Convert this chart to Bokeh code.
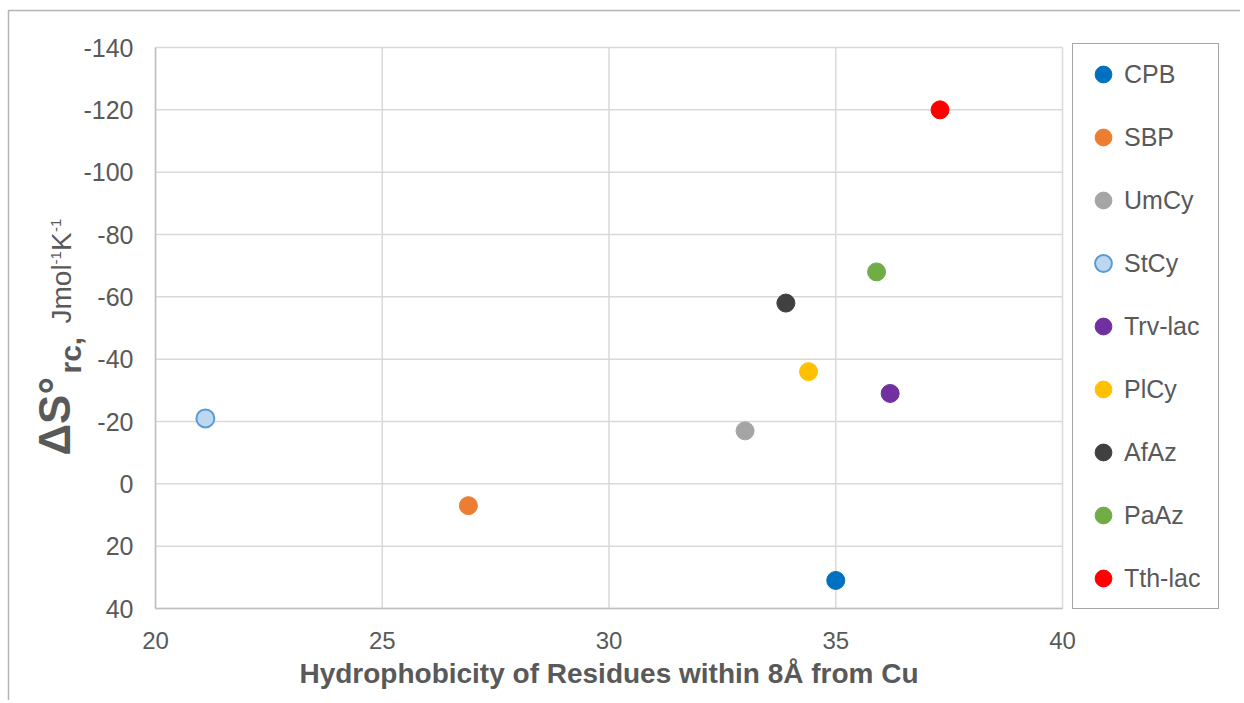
import math
from bokeh.plotting import figure
from bokeh.models import (Range1d, FixedTicker, Legend, LegendItem, Label, BoxAnnotation)
from bokeh.embed import file_html
from bokeh.resources import INLINE

# ---- data ----
names = ["CPB", "SBP", "UmCy", "StCy", "Trv-lac", "PlCy", "AfAz", "PaAz", "Tth-lac"]
hydrophobicity = [35.0, 26.9, 33.0, 21.1, 36.2, 34.4, 33.9, 35.9, 37.3]
delta_s = [31, 7, -17, -21, -29, -36, -58, -68, -120]
x_ticks = [20, 25, 30, 35, 40]
y_ticks = [-140, -120, -100, -80, -60, -40, -20, 0, 20, 40]

fill_colors = ["#0070C0", "#ED7D31", "#A5A5A5", "#BDD7EE", "#7030A0",
               "#FFC000", "#404040", "#70AD47", "#FF0000"]
line_colors = ["#0070C0", "#ED7D31", "#A5A5A5", "#5B9BD5", "#7030A0",
               "#FFC000", "#404040", "#70AD47", "#FF0000"]

FONT = "Liberation Sans"
TXT = "#595959"

# ---- layout (pixels) ----
W, H = 1240, 700
PL, PR, PT, PB = 155, 1062, 47, 608          # plot-area edges on the canvas
X0, X1 = x_ticks[0], x_ticks[-1]
Y0, Y1 = y_ticks[0], y_ticks[-1]               # -140 (top), 40 (bottom)
sx = (PR - PL) / (X1 - X0)
sy = (PB - PT) / (Y1 - Y0)
x_range = Range1d(X0 - PL / sx, X1 + (W - PR) / sx)
y_range = Range1d(Y1 + (H - PB) / sy, Y0 - PT / sy)

p = figure(output_backend="svg", toolbar_location=None, width=W, height=H,
           x_range=x_range, y_range=y_range, min_border=0,
           background_fill_color="white", border_fill_color="white")
p.outline_line_color = None
p.grid.visible = False

# gridlines limited to the plot area (from the tick lists)
p.segment(x0=x_ticks, x1=x_ticks, y0=[Y0] * len(x_ticks), y1=[Y1] * len(x_ticks),
          line_color="#d9d9d9", line_width=1.5, level="underlay")
p.segment(x0=[X0] * len(y_ticks), x1=[X1] * len(y_ticks), y0=y_ticks, y1=y_ticks,
          line_color="#d9d9d9", line_width=1.5, level="underlay")

# axes fixed at the plot-area edges
p.xaxis.fixed_location = Y1
p.yaxis.fixed_location = X0
p.xaxis.bounds = (X0, X1)
p.yaxis.bounds = (Y0, Y1)
p.xaxis.ticker = FixedTicker(ticks=x_ticks)
p.yaxis.ticker = FixedTicker(ticks=y_ticks)
p.xaxis.major_label_overrides = {t: str(t) for t in x_ticks}
p.yaxis.major_label_overrides = {t: str(t) for t in y_ticks}
for ax in (p.xaxis[0], p.yaxis[0]):
    ax.major_tick_line_color = None
    ax.minor_tick_line_color = None
    ax.major_tick_out = 0
    ax.major_tick_in = 0
    ax.axis_line_color = "#bfbfbf"
    ax.axis_line_width = 1.5
    ax.major_label_text_font = FONT
    ax.major_label_text_color = TXT
p.yaxis.major_label_text_font_size = "25px"
p.xaxis.major_label_text_font_size = "24px"
p.yaxis.major_label_standoff = 22
p.xaxis.major_label_standoff = 23

p.xaxis.axis_label = "Hydrophobicity of Residues within 8Å from Cu"
p.xaxis.axis_label_text_font = FONT
p.xaxis.axis_label_text_font_style = "bold"
p.xaxis.axis_label_text_font_size = "28px"
p.xaxis.axis_label_text_color = TXT
p.xaxis.axis_label_standoff = 6

# outer chart border (only its left and top edges fall inside the picture)
p.add_layout(BoxAnnotation(left=8, right=W + 20, top=H - 10, bottom=-20,
                           left_units="screen", right_units="screen",
                           top_units="screen", bottom_units="screen",
                           fill_alpha=0, line_color="#b4b4b4", line_width=1.5,
                           line_alpha=1.0, level="underlay"))

# points
items = []
for i, nm in enumerate(names):
    r = p.scatter(x=[hydrophobicity[i]], y=[delta_s[i]], size=18,
                  fill_color=fill_colors[i], line_color=line_colors[i],
                  line_width=2 if nm == "StCy" else 1)
    items.append(LegendItem(label=nm, renderers=[r]))

# y-axis title built from pieces (rotated); positions in canvas pixels
def ylab(text, x, y, size, bold=False):
    p.add_layout(Label(x=x, y=H - y, x_units="screen", y_units="screen",
                       text=text, angle=math.pi / 2,
                       text_align="left", text_baseline="alphabetic",
                       text_font=FONT, text_font_size=size,
                       text_font_style="bold" if bold else "normal",
                       text_color=TXT))

ylab("ΔS°", 54, 455, "44px", True)
ylab("rc,", 70, 373, "30px", True)
ylab("Jmol", 61, 323, "28px")
ylab("-1", 55, 264, "15px")
ylab("K", 61, 250.5, "28px")
ylab("-1", 55, 231.5, "15px")

legend = Legend(items=items, location=(1072, H - 609), orientation="vertical",
                glyph_width=42, glyph_height=42, label_height=42,
                label_width=85, label_standoff=0, spacing=21, padding=9, margin=0,
                label_text_font=FONT, label_text_font_size="25px",
                label_text_color=TXT,
                border_line_color="#a6a6a6", border_line_width=1.5,
                border_line_alpha=1.0,
                background_fill_color="white", background_fill_alpha=1.0)
p.add_layout(legend)

open("out.html", "w").write(file_html(p, INLINE))
